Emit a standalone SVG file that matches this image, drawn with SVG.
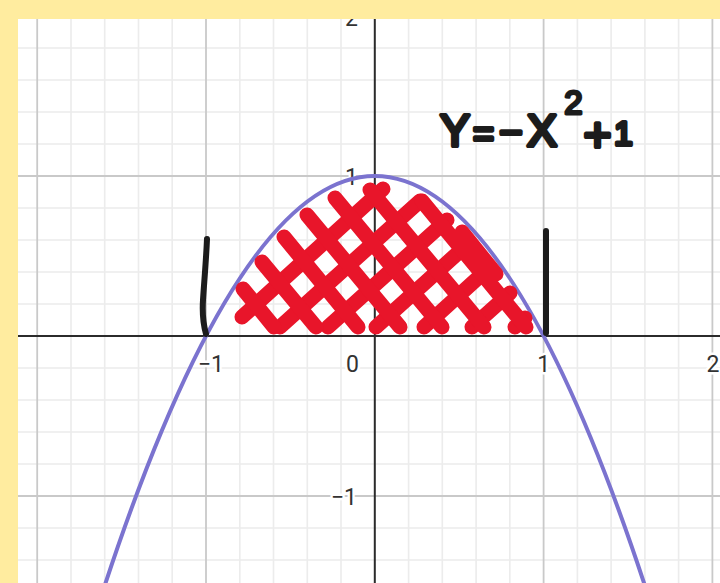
<svg xmlns="http://www.w3.org/2000/svg" width="720" height="583" viewBox="0 0 720 583">
<style>
.minor{stroke:#ececec;stroke-width:1.6;fill:none}
.major{stroke:#c9c9c9;stroke-width:1.8;fill:none}
.axis{stroke:#2b2b2b;stroke-width:2;fill:none}
.lbl{font-family:Roboto,"Liberation Sans",sans-serif;font-size:23px;fill:#333;stroke:#fff;stroke-width:5px;stroke-linejoin:round;paint-order:stroke}
.hatch{stroke:#e8152a;stroke-width:15;stroke-linecap:round;fill:none}
.ink{stroke:#1c1c1c;stroke-linecap:round;stroke-linejoin:round;fill:none}
.eq{font-family:"Liberation Sans",Arial,sans-serif;fill:#1c1c1c;stroke:#1c1c1c;stroke-width:4;stroke-linejoin:round;stroke-linecap:round}
</style>
<rect x="0" y="0" width="720" height="583" fill="#ffffff"/>
<g id="grid">
<path class="minor" d="M71,0V583M104.7,0V583M138.5,0V583M172.2,0V583M239.8,0V583M273.5,0V583M307.3,0V583M341,0V583M408.6,0V583M442.3,0V583M476.1,0V583M509.8,0V583M577.4,0V583M611.1,0V583M644.9,0V583M678.6,0V583"/>
<path class="minor" d="M0,48H720M0,80H720M0,112H720M0,144H720M0,208H720M0,240H720M0,272H720M0,304H720M0,368H720M0,400H720M0,432H720M0,464H720M0,528H720M0,560H720"/>
<path class="major" d="M37.2,0V583M206,0V583M543.6,0V583M712.4,0V583M0,16H720M0,176H720M0,496H720"/>
</g>
<g id="axes">
<path class="axis" d="M0,336H720M374.8,0V583"/>
</g>
<g id="labels">
<text class="lbl" x="358" y="26" text-anchor="end">2</text>
<text class="lbl" x="358" y="185" text-anchor="end">1</text>
<text class="lbl" x="359" y="372" text-anchor="end">0</text>
<text class="lbl" x="357" y="505" text-anchor="end">−1</text>
<text class="lbl" x="224" y="372" text-anchor="end">−1</text>
<text class="lbl" x="543.6" y="372" text-anchor="middle">1</text>
<text class="lbl" x="713" y="372" text-anchor="middle">2</text>
</g>
<g id="parabola">
<path d="M104.7,585.6 Q374.8,-233.6 644.9,585.6" fill="none" stroke="#7b73cf" stroke-width="4"/>
</g>
<g id="shading">
<path class="hatch" d="M242,317L383,189M280,327L420,201M328,327L447,220M376,327L469,243M424,327L490,267M472,327L510,293M515,327L525,318"/>
<path class="hatch" d="M243,289L274,327M262,262L316,327M284,237L358,327M307,215L400,327M335,198L442,327M370,190L484,327M422,201L526,327M462,232L496,274"/>
</g>
<g id="bounds">
<path class="ink" stroke-width="6" d="M207,239C206,262 204,284 203,300C202,316 204,327 206,334"/>
<path class="ink" stroke-width="6" d="M546,231L546,333"/>
</g>
<g id="equation">
<text class="eq" font-size="45"><tspan x="455" y="146" text-anchor="middle">Y</tspan><tspan x="483.5" y="146" font-size="36" text-anchor="middle">=</tspan><tspan x="511" y="146" font-size="40" text-anchor="middle">−</tspan><tspan x="542" y="146" text-anchor="middle">X</tspan><tspan x="573.5" y="114" font-size="33" stroke-width="3" text-anchor="middle">2</tspan><tspan x="597.5" y="151" font-size="48" text-anchor="middle">+</tspan><tspan x="623.5" y="145" font-size="33" text-anchor="middle">1</tspan></text>
</g>
<g id="frame">
<rect x="0" y="0" width="720" height="19" fill="#ffec9f"/>
<rect x="0" y="0" width="18" height="583" fill="#ffec9f"/>
</g>
</svg>
